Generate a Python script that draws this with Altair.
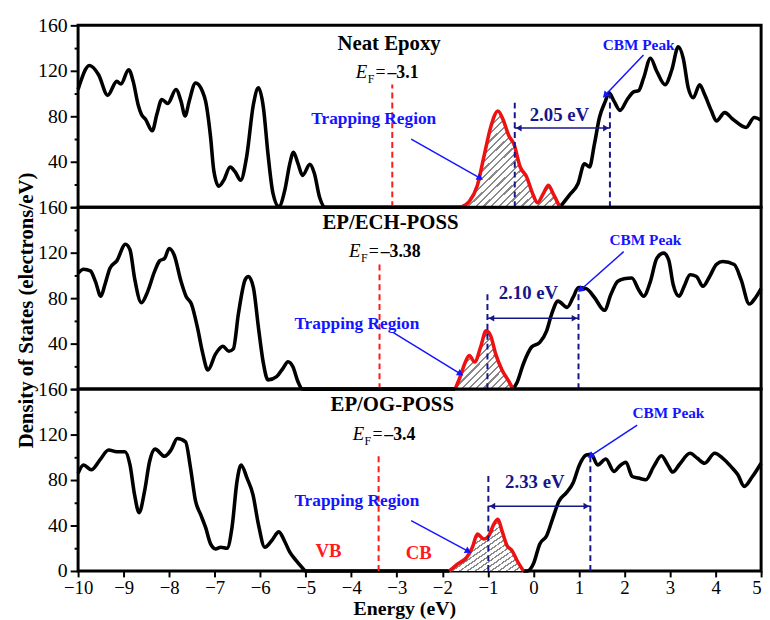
import math
import altair as alt
import pandas as pd

FONT = "Liberation Serif"
W, H = 691, 184
XDOM = [-10, 5]
YDOM = [0, 160]
PX_X = W / 15.0
PX_Y = H / 160.0

BLACK = "#000000"
RED = "#ee1111"
BLUE = "#1414ff"
NAVY = "#16168a"

# ---------------- data ----------------
P1_BL_X = [-10, -9.75, -9.55, -9.35, -9.15, -9.06, -8.89, -8.79, -8.68, -8.61, -8.52, -8.37, -8.27, -8.16, -8.03,
           -7.85, -7.74, -7.65, -7.56, -7.42, -7.27, -7.2, -7.09, -7.02, -6.91, -6.8, -6.66, -6.55, -6.43, -6.3,
           -6.15, -6.04, -5.93, -5.83, -5.72, -5.59, -5.46, -5.35, -5.27, -5.17, -5.07, -4.91, -4.81, -4.7, -4.57, -1.59]
P1_BL_Y = [103.5, 124.6, 116.5, 98.5, 110.7, 108.4, 121, 110.7, 90, 81.7, 77.4, 67.2, 81.7, 94.8, 91.3,
           103.5, 93.3, 80.3, 93.3, 109.3, 102, 93.3, 61.5, 32.4, 18.5, 23.8, 35.4, 31, 23.8, 44,
           90.4, 105, 87.6, 47, 12.2, 0.6, 15, 38.3, 48.4, 38.3, 28, 37.7, 29.6, 9.3, 0, 0]
P1_RED_X = [-1.59, -1.41, -1.23, -1.09, -0.94, -0.78, -0.67, -0.54, -0.43, -0.29, -0.15, -0.02, 0.09, 0.22, 0.33, 0.43, 0.58]
P1_RED_Y = [0, 5, 19.4, 44, 70.2, 84.6, 77.4, 62.9, 55.7, 35.4, 26.7, 12.2, 4, 12.2, 19.4, 12.2, 0]
P1_BR_X = [0.58, 0.79, 0.98, 1.12, 1.23, 1.34, 1.45, 1.58, 1.66, 1.77, 1.9, 2.06, 2.2, 2.31, 2.42, 2.57, 2.71,
           2.89, 3.04, 3.18, 3.29, 3.4, 3.51, 3.65, 3.76, 3.91, 4.02, 4.2, 4.38, 4.67, 4.85, 5.0]
P1_BR_Y = [0, 10.7, 20.9, 38.3, 35.4, 55.7, 78.9, 93.3, 100.6, 93.3, 85.2, 94.8, 101.5, 102.6, 113.7, 131, 119.4,
           107.8, 120.9, 141.1, 131, 105, 96.3, 107.8, 99.1, 84.6, 75.9, 83.2, 77.4, 70.2, 78.9, 76.5]

P2_BL_X = [-10, -9.88, -9.73, -9.62, -9.5, -9.41, -9.3, -9.15, -8.96, -8.86, -8.76, -8.61, -8.47, -8.32, -8.21,
           -8.1, -8.0, -7.89, -7.74, -7.63, -7.51, -7.38, -7.27, -7.15, -6.98, -6.82, -6.69, -6.59, -6.48, -6.33,
           -6.26, -6.15, -6.04, -5.93, -5.83, -5.64, -5.5, -5.39, -5.28, -5.17, -5.07, -1.72]
P2_BL_Y = [102, 105.5, 104, 94.8, 81.7, 92, 106.4, 112.8, 127.5, 122.6, 97.7, 76, 86, 103.5, 112.8,
           115, 123.7, 118, 94.8, 81.7, 74.8, 54.5, 32.8, 16.8, 31, 37.7, 33.3, 35.4, 66, 96.3,
           99.1, 89.3, 54.5, 22.6, 8.1, 11, 18.3, 24, 19.4, 6.4, 0, 0]
P2_RED_X = [-1.72, -1.61, -1.51, -1.41, -1.29, -1.16, -1.04, -0.94, -0.83, -0.69, -0.54, -0.45]
P2_RED_Y = [0, 10.7, 22.3, 29.6, 23.8, 37, 51.3, 47, 31, 16.8, 6.7, 0]
P2_BR_X = [-0.45, -0.36, -0.22, -0.04, 0.14, 0.29, 0.4, 0.54, 0.74, 0.87, 0.99, 1.16, 1.34, 1.56, 1.7, 1.85,
           1.99, 2.16, 2.31, 2.42, 2.57, 2.71, 2.86, 2.97, 3.07, 3.2, 3.31, 3.44, 3.58, 3.72, 3.87, 4.02, 4.16,
           4.41, 4.56, 4.74, 4.88, 5.0]
P2_BR_Y = [0, 5.8, 22.3, 37, 41.1, 51.3, 66, 77.4, 71.9, 80.6, 89.3, 88.4, 80.6, 69.3, 83.2, 94.8,
           97.1, 97.7, 87.5, 81.7, 94.8, 115.2, 119.6, 113.7, 91.8, 81.7, 90.4, 100.6, 99.1, 90.4, 99.1, 109.8, 112.2,
           109.6, 96.3, 74.8, 80.6, 88.4]

P3_BL_X = [-10, -9.88, -9.71, -9.52, -9.33, -9.15, -8.97, -8.86, -8.76, -8.66, -8.54, -8.43, -8.31, -8.1, -7.96,
           -7.82, -7.64, -7.53, -7.42, -7.31, -7.2, -7.09, -6.98, -6.87, -6.73, -6.62, -6.51, -6.42, -6.29, -6.16,
           -6.04, -5.9, -5.75, -5.59, -5.47, -5.35, -5.21, -5.1, -5.0, -1.85]
P3_BL_Y = [86, 93.3, 89, 97.7, 106.4, 104.9, 104.9, 93.3, 67.2, 51.3, 70.2, 96.3, 107.2, 100.9, 106.4,
           116.5, 113.6, 90.4, 61.4, 49.8, 38.3, 23.8, 19.4, 20.9, 20, 38.3, 78.8, 93.3, 81.7, 67.2,
           41.1, 20.9, 26.6, 34.4, 26.6, 16.5, 9.2, 4, 0, 0]
P3_RED_X = [-1.85, -1.66, -1.46, -1.34, -1.23, -1.09, -0.98, -0.87, -0.78, -0.69, -0.58, -0.47, -0.36, -0.22]
P3_RED_Y = [0, 6.3, 12.2, 20.9, 32.4, 28.1, 31, 41.1, 45.5, 35.3, 22.3, 17.9, 9.2, 0]
P3_BR_X = [-0.22, -0.13, 0.0, 0.14, 0.29, 0.43, 0.56, 0.72, 0.87, 1.01, 1.16, 1.27, 1.41, 1.59, 1.77, 1.88,
           2.03, 2.17, 2.31, 2.47, 2.64, 2.81, 2.95, 3.06, 3.21, 3.44, 3.6, 3.76, 3.98, 4.16, 4.34, 4.49, 4.63,
           4.81, 5.0]
P3_BR_Y = [0, 0, 6.3, 23.8, 31, 47, 61.4, 68.7, 77.4, 93.3, 102, 102.6, 93.3, 98.5, 87.5, 91.8,
           95.7, 83.1, 81.7, 80.3, 91.8, 101.4, 93.3, 87, 93.9, 103.5, 99.1, 94.8, 103.5, 99.1, 91.8, 84.6, 74.4,
           83.1, 94.8]

TITLES = ["Neat Epoxy", "EP/ECH-POSS", "EP/OG-POSS"]
TITLE_POS = [(-3.17, 138.5), (-3.14, 141), (-3.10, 141)]
EF_VALUES = [-3.1, -3.38, -3.4]
EF_TEXT = ["\u20133.1", "\u20133.38", "\u20133.4"]
EF_TOP = [108, 110, 104]
EF_LABEL_POS = [(-3.90, 114), (-4.05, 116.5), (-3.97, 114.8)]
TRAP_POS = [(-4.88, 73), (-5.25, 53), (-5.25, 56.8)]
TRAP_ARROW = [(-2.685, 60, -1.19, 26.1), (-3.076, 49.6, -1.62, 13.9), (-2.685, 44.3, -1.45, 17.7)]
CBM_POS = [(2.31, 138.3), (2.46, 127.2), (2.965, 134.5)]
CBM_ARROW = [(2.416, 133.9, 1.59, 99.1), (1.982, 120.9, 1.05, 87.8), (2.279, 128.4, 1.27, 101.7)]
GAP_LEFT = [(-0.41, 92), (-1.01, 86), (-0.99, 84.6)]
GAP_RIGHT = [(1.68, 100), (0.99, 89), (1.25, 102)]
GAP_Y = [69.6, 62.3, 57]
GAP_TEXT = ["2.05 eV", "2.10 eV", "2.33 eV"]
GAP_TEXT_POS = [(0.57, 75.6), (-0.11, 79), (0.03, 73)]
BAND_TEXT = ["VB", "CB"]
BAND_POS = [(-4.5, 12.6), (-2.52, 10.7)]
HATCH_N = [26, 16, 19]
X_TICKS = list(range(-10, 6))
Y_TICKS = list(range(0, 161, 20))

CURVES = [
    (P1_BL_X, P1_BL_Y, P1_RED_X, P1_RED_Y, P1_BR_X, P1_BR_Y),
    (P2_BL_X, P2_BL_Y, P2_RED_X, P2_RED_Y, P2_BR_X, P2_BR_Y),
    (P3_BL_X, P3_BL_Y, P3_RED_X, P3_RED_Y, P3_BR_X, P3_BR_Y),
]


def hatch(n):
    stops = []
    for i in range(n):
        a = round(i / n, 5)
        b = round((i + 0.7) / n, 5)
        c = round((i + 1) / n, 5)
        stops += [alt.GradientStop(offset=a, color="white"),
                  alt.GradientStop(offset=b, color="white"),
                  alt.GradientStop(offset=b, color="#8a8a8a"),
                  alt.GradientStop(offset=c, color="#8a8a8a")]
    return alt.LinearGradient(gradient="linear", stops=stops, x1=0, y1=0, x2=1, y2=1)


def angle_of(x1, y1, x2, y2):
    dxp = (x2 - x1) * PX_X
    dyp = -(y2 - y1) * PX_Y
    return math.degrees(math.atan2(dxp, -dyp)) % 360


def make_panel(i):
    bl_x, bl_y, r_x, r_y, br_x, br_y = CURVES[i]
    bottom = i == 2
    if bottom:
        xaxis = alt.Axis(values=X_TICKS, tickSize=6, tickWidth=2, tickColor="black",
                         domain=False, grid=False, labelFontSize=19, labelPadding=2, labelFont=FONT,
                         labelColor="black", labelFlush=False, labelOverlap=False,
                         labelAlign={"condition": {"test": "datum.value === 5", "value": "right"},
                                     "value": "center"},
                         title="Energy (eV)", titleFont=FONT, titleFontSize=20,
                         titleFontWeight="bold", titleX=330, titleY=44, titleBaseline="alphabetic",
                         titleColor="black", format="d")
    else:
        xaxis = None
    if bottom:
        lexpr = "datum.value % 40 === 0 ? datum.label : ''"
    else:
        lexpr = "datum.value % 40 === 0 && datum.value > 0 ? datum.label : ''"
    yaxis_kw = dict(values=Y_TICKS, labelExpr=lexpr,
                    tickSize={"condition": {"test": "datum.value % 40 === 0", "value": 8}, "value": 4},
                    tickWidth=2, tickColor="black", domain=False, grid=False, labelFontSize=20,
                    labelPadding=3, labelFont=FONT, labelColor="black", labelFlush=False,
                    labelOverlap=False)
    if i == 1:
        yaxis = alt.Axis(title="Density of States (electrons/eV)", titleFont=FONT, titleFontSize=21,
                         titleFontWeight="bold", titleColor="black", titleX=-52, titleY=104,
                         titleAngle=270, titleBaseline="middle", titleAlign="center", **yaxis_kw)
    else:
        yaxis = alt.Axis(title=None, **yaxis_kw)

    X = lambda f="x": alt.X(f, type="quantitative", scale=alt.Scale(domain=XDOM, nice=False, zero=False), axis=xaxis)
    Y = lambda f="y": alt.Y(f, type="quantitative", scale=alt.Scale(domain=YDOM, nice=False), axis=yaxis)

    black_df = pd.DataFrame({"x": bl_x + br_x, "y": bl_y + br_y,
                             "seg": ["L"] * len(bl_x) + ["R"] * len(br_x),
                             "o": list(range(len(bl_x) + len(br_x)))})
    red_df = pd.DataFrame({"x": r_x, "y": r_y})

    layers = []
    layers.append(alt.Chart(red_df).mark_area(fill=hatch(HATCH_N[i]), interpolate="monotone").encode(x=X(), y=Y()))
    layers.append(alt.Chart(black_df).mark_line(color=BLACK, strokeWidth=3.6, interpolate="monotone")
                  .encode(x=X(), y=Y(), detail="seg:N", order="o:Q"))
    layers.append(alt.Chart(red_df).mark_line(color=RED, strokeWidth=3.6, interpolate="monotone")
                  .encode(x=X(), y=Y()))

    # Fermi level
    ef_df = pd.DataFrame({"x": [EF_VALUES[i]], "y": [0], "y2": [EF_TOP[i]]})
    layers.append(alt.Chart(ef_df).mark_rule(color="#ff1a1a", strokeWidth=2, strokeDash=[6, 4])
                  .encode(x=X(), y=Y(), y2="y2"))

    # gap dashed lines
    gap_df = pd.DataFrame({"x": [GAP_LEFT[i][0], GAP_RIGHT[i][0]], "y": [0, 0],
                           "y2": [GAP_LEFT[i][1], GAP_RIGHT[i][1]]})
    layers.append(alt.Chart(gap_df).mark_rule(color=NAVY, strokeWidth=2, strokeDash=[6, 4])
                  .encode(x=X(), y=Y(), y2="y2"))
    # double arrow
    da_df = pd.DataFrame({"x": [GAP_LEFT[i][0]], "x2": [GAP_RIGHT[i][0]], "y": [GAP_Y[i]]})
    layers.append(alt.Chart(da_df).mark_rule(color=NAVY, strokeWidth=1.5)
                  .encode(x=X(), x2="x2", y=Y()))
    head_l = pd.DataFrame({"x": [GAP_LEFT[i][0]], "y": [GAP_Y[i]]})
    head_r = pd.DataFrame({"x": [GAP_RIGHT[i][0]], "y": [GAP_Y[i]]})
    layers.append(alt.Chart(head_l).mark_point(shape="triangle-left", filled=True, color=NAVY, size=45,
                                               opacity=1, xOffset=4).encode(x=X(), y=Y()))
    layers.append(alt.Chart(head_r).mark_point(shape="triangle-right", filled=True, color=NAVY, size=45,
                                               opacity=1, xOffset=-4).encode(x=X(), y=Y()))
    gt_df = pd.DataFrame({"x": [GAP_TEXT_POS[i][0]], "y": [GAP_TEXT_POS[i][1]], "t": [GAP_TEXT[i]]})
    layers.append(alt.Chart(gt_df).mark_text(font=FONT, fontSize=19, fontWeight="bold", color=NAVY,
                                             align="center", baseline="alphabetic")
                  .encode(x=X(), y=Y(), text="t:N"))

    # blue arrows
    for (x1, y1, x2, y2) in (TRAP_ARROW[i], CBM_ARROW[i]):
        a_df = pd.DataFrame({"x": [x1], "y": [y1], "x2": [x2], "y2": [y2]})
        layers.append(alt.Chart(a_df).mark_rule(color=BLUE, strokeWidth=1.5)
                      .encode(x=X(), y=Y(), x2="x2", y2="y2"))
        h_df = pd.DataFrame({"x": [x2], "y": [y2], "a": [angle_of(x1, y1, x2, y2)]})
        layers.append(alt.Chart(h_df).mark_point(shape="triangle", filled=True, color=BLUE, size=55, opacity=1)
                      .encode(x=X(), y=Y(), angle=alt.Angle("a:Q", scale=None)))

    # texts
    t_df = pd.DataFrame({"x": [TITLE_POS[i][0]], "y": [TITLE_POS[i][1]], "t": [TITLES[i]]})
    layers.append(alt.Chart(t_df).mark_text(font=FONT, fontSize=21, fontWeight="bold", color="black",
                                            align="center", baseline="alphabetic")
                  .encode(x=X(), y=Y(), text="t:N"))
    tr_df = pd.DataFrame({"x": [TRAP_POS[i][0]], "y": [TRAP_POS[i][1]], "t": ["Trapping Region"]})
    layers.append(alt.Chart(tr_df).mark_text(font=FONT, fontSize=17.5, fontWeight="bold", color=BLUE,
                                             align="left", baseline="alphabetic")
                  .encode(x=X(), y=Y(), text="t:N"))
    cb_df = pd.DataFrame({"x": [CBM_POS[i][0]], "y": [CBM_POS[i][1]], "t": ["CBM Peak"]})
    layers.append(alt.Chart(cb_df).mark_text(font=FONT, fontSize=15.5, fontWeight="bold", color=BLUE,
                                             align="center", baseline="alphabetic")
                  .encode(x=X(), y=Y(), text="t:N"))
    ex, ey = EF_LABEL_POS[i]
    e_df = pd.DataFrame({"x": [ex], "y": [ey], "t": ["E"]})
    layers.append(alt.Chart(e_df).mark_text(font=FONT, fontSize=19, fontStyle="italic", color="black",
                                            align="left", baseline="alphabetic")
                  .encode(x=X(), y=Y(), text="t:N"))
    f_df = pd.DataFrame({"x": [ex], "y": [ey], "t": ["F"]})
    layers.append(alt.Chart(f_df).mark_text(font=FONT, fontSize=12, color="black", dx=12, dy=5,
                                            align="left", baseline="alphabetic")
                  .encode(x=X(), y=Y(), text="t:N"))
    eq_df = pd.DataFrame({"x": [ex], "y": [ey], "t": ["="]})
    layers.append(alt.Chart(eq_df).mark_text(font=FONT, fontSize=18, color="black", dx=20,
                                             align="left", baseline="alphabetic")
                  .encode(x=X(), y=Y(), text="t:N"))
    v_df = pd.DataFrame({"x": [ex], "y": [ey], "t": [EF_TEXT[i]]})
    layers.append(alt.Chart(v_df).mark_text(font=FONT, fontSize=18, fontWeight="bold", color="black", dx=32,
                                            align="left", baseline="alphabetic")
                  .encode(x=X(), y=Y(), text="t:N"))
    if bottom:
        b_df = pd.DataFrame({"x": [p[0] for p in BAND_POS], "y": [p[1] for p in BAND_POS], "t": BAND_TEXT})
        layers.append(alt.Chart(b_df).mark_text(font=FONT, fontSize=19, fontWeight="bold", color="#ff1a1a",
                                                align="center", baseline="alphabetic")
                      .encode(x=X(), y=Y(), text="t:N"))

    return alt.layer(*layers).properties(width=W, height=H)


chart = alt.vconcat(make_panel(0), make_panel(1), make_panel(2), spacing=0, bounds="flush").properties(
    padding={"left": 14, "top": 10, "right": 0, "bottom": 0}
).configure_view(stroke="black", strokeWidth=3)

chart.save("out.html", embed_options={"renderer": "svg", "actions": False})
